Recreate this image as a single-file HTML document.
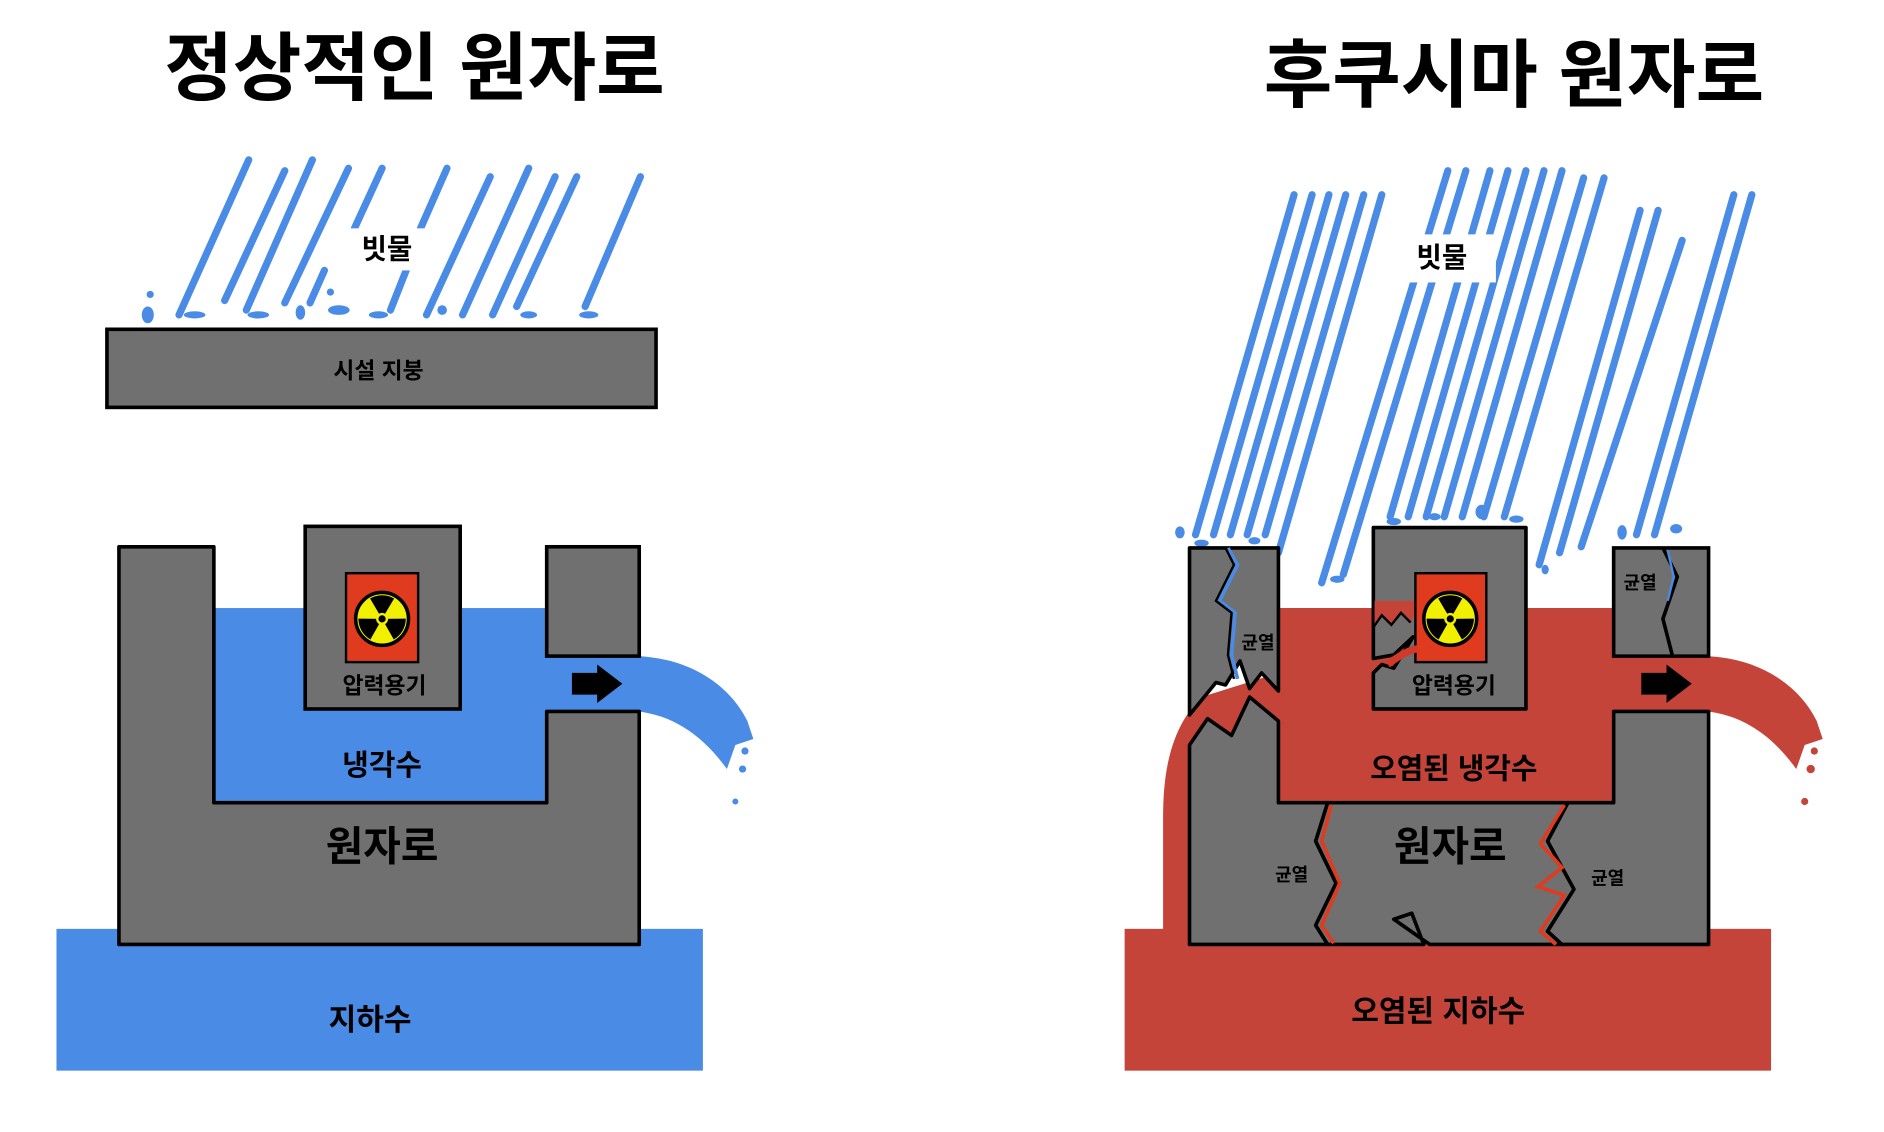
<!DOCTYPE html>
<html><head><meta charset="utf-8"><style>
html,body{margin:0;padding:0;background:#fff;}
svg{display:block}
text{font-family:"Liberation Sans","Noto Sans CJK KR","NanumGothic",sans-serif;font-weight:bold;text-anchor:middle;fill:#000}
</style></head><body>
<svg width="1884" height="1132" viewBox="0 0 1568 942" xmlns="http://www.w3.org/2000/svg">
<rect width="1568" height="942" fill="#fff"/>
<!-- LEFT -->
<text x="345" y="78" font-size="62">정상적인 원자로</text>
<g stroke="#4a8be6" stroke-width="6" stroke-linecap="round">
<line x1="207" y1="133" x2="149" y2="262"/>
<line x1="237" y1="142" x2="187" y2="250"/>
<line x1="260" y1="133" x2="205" y2="258"/>
<line x1="290" y1="140" x2="237" y2="252"/>
<line x1="318" y1="140" x2="295" y2="190"/>
<line x1="270" y1="225" x2="258" y2="252"/>
<line x1="372" y1="140" x2="350" y2="190"/>
<line x1="408" y1="147" x2="355" y2="262"/>
<line x1="440" y1="140" x2="385" y2="262"/>
<line x1="462" y1="147" x2="410" y2="262"/>
<line x1="480" y1="147" x2="430" y2="255"/>
<line x1="533" y1="147" x2="487" y2="255"/>
<line x1="338" y1="225" x2="325" y2="258"/>
</g>
<g fill="#4a8be6">
<ellipse cx="123" cy="262" rx="5" ry="7"/><ellipse cx="162" cy="262" rx="9" ry="3"/><ellipse cx="215" cy="262" rx="9" ry="3"/><ellipse cx="250" cy="260" rx="4" ry="6"/><ellipse cx="282" cy="258" rx="9" ry="4"/><ellipse cx="315" cy="262" rx="8" ry="3"/><ellipse cx="368" cy="258" rx="4" ry="4"/><ellipse cx="440" cy="262" rx="7" ry="3"/><ellipse cx="490" cy="262" rx="8" ry="3"/><ellipse cx="125" cy="245" rx="3" ry="3"/><ellipse cx="275" cy="243" rx="3" ry="3"/>
</g>
<rect x="89" y="274" width="457" height="65" fill="#707070" stroke="#000" stroke-width="3"/>
<text x="315" y="315" font-size="19">시설 지붕</text>
<rect x="47" y="773" width="538" height="118" fill="#4a8be6"/>
<rect x="178" y="506" width="354" height="162" fill="#4a8be6"/>
<path d="M530,546 C580,548 610,575 622,600 L627,615 L612,620 L605,640 C585,612 560,595 530,592 Z" fill="#4a8be6"/>
<circle cx="620" cy="625" r="3" fill="#4a8be6"/><circle cx="618" cy="640" r="3" fill="#4a8be6"/><circle cx="612" cy="667" r="2.5" fill="#4a8be6"/>
<path d="M99,455 L178,455 L178,668 L455,668 L455,592 L532,592 L532,786 L99,786 Z" fill="#707070" stroke="#000" stroke-width="3" stroke-linejoin="round"/>
<rect x="455" y="455" width="77" height="91" fill="#707070" stroke="#000" stroke-width="3"/>
<path d="M476,560 L497,560 L497,553 L518,569 L497,585 L497,578 L476,578 Z" fill="#000"/>
<rect x="254" y="438" width="129" height="152" fill="#707070" stroke="#000" stroke-width="3"/>
<rect x="288" y="477" width="60" height="74" fill="#e03a1f" stroke="#000" stroke-width="2"/>
<circle cx="318" cy="515" r="22" fill="#f0f000" stroke="#000" stroke-width="3"/>
<g fill="#000"><path d="M318,515 L308,498 A20,20 0 0 1 328,498 Z"/><path d="M318,515 L308,498 A20,20 0 0 1 328,498 Z" transform="rotate(120 318 515)"/><path d="M318,515 L308,498 A20,20 0 0 1 328,498 Z" transform="rotate(240 318 515)"/></g>
<circle cx="318" cy="515" r="5" fill="#f0f000"/><circle cx="318" cy="515" r="3" fill="#000"/>
<text x="320" y="577" font-size="19">압력용기</text>
<text x="318" y="645" font-size="24">냉각수</text>
<text x="318" y="716" font-size="34">원자로</text>
<text x="308" y="857" font-size="25">지하수</text>
<rect x="285" y="190" width="75" height="35" fill="#fff"/>
<text x="322" y="215" font-size="23">빗물</text>

<!-- RIGHT -->
<text x="1260" y="84" font-size="62">후쿠시마 원자로</text>
<g stroke="#4a8be6" stroke-width="6" stroke-linecap="round">
<line x1="1077" y1="162" x2="995" y2="445"/>
<line x1="1092" y1="162" x2="1010" y2="445"/>
<line x1="1106" y1="162" x2="1024" y2="445"/>
<line x1="1120" y1="162" x2="1038" y2="445"/>
<line x1="1135" y1="162" x2="1053" y2="445"/>
<line x1="1150" y1="162" x2="1064" y2="460"/>
<line x1="1205" y1="142" x2="1100" y2="485"/>
<line x1="1220" y1="142" x2="1118" y2="478"/>
<line x1="1240" y1="142" x2="1157" y2="430"/>
<line x1="1255" y1="142" x2="1172" y2="430"/>
<line x1="1270" y1="142" x2="1187" y2="430"/>
<line x1="1285" y1="142" x2="1202" y2="430"/>
<line x1="1300" y1="142" x2="1217" y2="430"/>
<line x1="1318" y1="148" x2="1235" y2="430"/>
<line x1="1335" y1="148" x2="1252" y2="430"/>
<line x1="1365" y1="175" x2="1281" y2="470"/>
<line x1="1380" y1="175" x2="1298" y2="460"/>
<line x1="1400" y1="200" x2="1316" y2="455"/>
<line x1="1443" y1="162" x2="1362" y2="445"/>
<line x1="1458" y1="162" x2="1377" y2="445"/>
</g>
<g fill="#4a8be6">
<ellipse cx="982" cy="443" rx="4" ry="5"/><ellipse cx="1000" cy="452" rx="6" ry="3"/><ellipse cx="1044" cy="450" rx="5" ry="3"/><ellipse cx="1113" cy="482" rx="6" ry="3"/><ellipse cx="1160" cy="434" rx="6" ry="3"/><ellipse cx="1194" cy="430" rx="5" ry="3"/><ellipse cx="1233" cy="426" rx="5" ry="6"/><ellipse cx="1262" cy="432" rx="6" ry="3"/><ellipse cx="1350" cy="443" rx="4" ry="6"/><ellipse cx="1395" cy="440" rx="5" ry="4"/><ellipse cx="1286" cy="474" rx="3" ry="4"/>
</g>
<!-- red contaminated water -->
<rect x="936" y="773" width="538" height="118" fill="#c5443a"/>
<path d="M1064,506 L1422,506 L1422,700 L1064,700 Z" fill="#c5443a"/>
<path d="M1064,560 L1000,580 C975,605 968,640 968,680 L968,775 L1070,775 L1070,560 Z" fill="#c5443a"/>
<path d="M1420,546 C1470,548 1500,575 1512,600 L1517,615 L1502,620 L1495,640 C1475,612 1450,595 1420,592 Z" fill="#c5443a"/>
<circle cx="1510" cy="625" r="3" fill="#c5443a"/><circle cx="1507" cy="640" r="3.5" fill="#c5443a"/><circle cx="1502" cy="667" r="3" fill="#c5443a"/>
<!-- structure -->
<path d="M990,456 L1064,456 L1064,575 L1050,560 L1040,573 L1032,550 L1020,570 L1012,568 L990,595 Z" fill="#707070" stroke="#000" stroke-width="3" stroke-linejoin="round"/>
<path d="M1022,456 L1030,470 L1015,500 L1028,510 L1025,545 L1030,565" fill="none" stroke="#4a8be6" stroke-width="3"/>
<path d="M1020,456 L1027,470 L1012,500 L1025,510 L1022,545 L1027,565" fill="none" stroke="#000" stroke-width="2"/>
<path d="M990,620 L1005,598 L1025,612 L1040,580 L1064,600 L1064,668 L1105,668 L1095,700 L1112,735 L1095,770 L1105,786 L990,786 Z" fill="#707070" stroke="#000" stroke-width="3" stroke-linejoin="round"/>
<path d="M1105,668 L1305,668 L1288,700 L1310,740 L1288,775 L1300,786 L1190,786 L1160,765 L1175,760 L1185,786 L1105,786 L1095,770 L1112,735 L1095,700 Z" fill="#707070" stroke="#000" stroke-width="3" stroke-linejoin="round"/>
<path d="M1305,668 L1343,668 L1343,592 L1422,592 L1422,786 L1300,786 L1288,775 L1310,740 L1288,700 Z" fill="#707070" stroke="#000" stroke-width="3" stroke-linejoin="round"/>
<path d="M1108,670 L1100,700 L1115,735 L1100,770 L1110,785" fill="none" stroke="#e03a1f" stroke-width="3"/>
<path d="M1302,670 L1282,702 L1300,722 L1280,738 L1302,745 L1282,775 L1295,786" fill="none" stroke="#e03a1f" stroke-width="3"/>
<path d="M1343,456 L1422,456 L1422,546 L1343,546 Z" fill="#707070" stroke="#000" stroke-width="3"/>
<path d="M1384,456 L1396,480 L1384,515 L1392,546" fill="none" stroke="#000" stroke-width="3"/>
<path d="M1388,458 L1393,480 L1388,500" fill="none" stroke="#4a8be6" stroke-width="2"/>
<path d="M1366,560 L1387,560 L1387,553 L1408,569 L1387,585 L1387,578 L1366,578 Z" fill="#000"/>
<path d="M1143,439 L1270,439 L1270,590 L1143,590 L1143,560 L1150,553 L1160,556 L1170,540 L1176,530 L1160,545 L1143,548 Z" fill="#707070" stroke="#000" stroke-width="3" stroke-linejoin="round"/>
<path d="M1143,500 L1143,522 L1150,512 L1158,520 L1166,510 L1174,518 L1178,510 L1178,500 Z" fill="#c5443a"/>
<path d="M1143,500 L1143,522 L1150,512 L1158,520 L1166,510 L1174,518" fill="none" stroke="#000" stroke-width="2"/>
<rect x="1178" y="477" width="59" height="74" fill="#e03a1f" stroke="#000" stroke-width="2"/>
<path d="M1155,553 C1165,545 1175,540 1180,540" stroke="#d03a2a" stroke-width="6" fill="none"/>
<circle cx="1207" cy="515" r="22" fill="#f0f000" stroke="#000" stroke-width="3"/>
<g fill="#000"><path d="M1207,515 L1197,498 A20,20 0 0 1 1217,498 Z"/><path d="M1207,515 L1197,498 A20,20 0 0 1 1217,498 Z" transform="rotate(120 1207 515)"/><path d="M1207,515 L1197,498 A20,20 0 0 1 1217,498 Z" transform="rotate(240 1207 515)"/></g>
<circle cx="1207" cy="515" r="5" fill="#f0f000"/><circle cx="1207" cy="515" r="3" fill="#000"/>
<text x="1210" y="577" font-size="19">압력용기</text>
<text x="1210" y="648" font-size="24">오염된 냉각수</text>
<text x="1207" y="716" font-size="34">원자로</text>
<text x="1197" y="850" font-size="25">오염된 지하수</text>
<text x="1047" y="540" font-size="15">균열</text>
<text x="1365" y="490" font-size="15">균열</text>
<text x="1075" y="733" font-size="15">균열</text>
<text x="1338" y="736" font-size="15">균열</text>
<rect x="1160" y="195" width="85" height="40" fill="#fff"/>
<text x="1200" y="222" font-size="23">빗물</text>
</svg>
</body></html>
